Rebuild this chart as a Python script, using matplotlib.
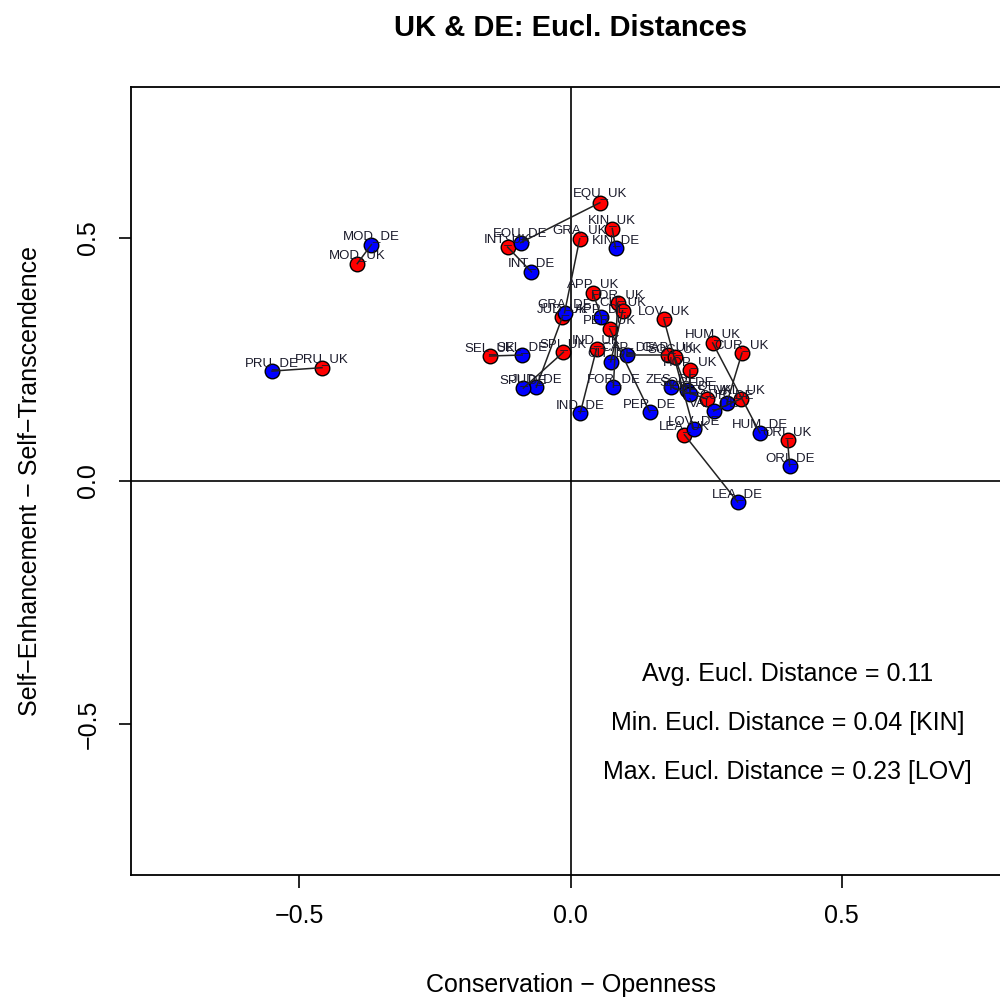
#!/usr/bin/env python3
# Scatter of UK vs DE positions on two value dimensions, with pairs joined
# and the Euclidean distance summary written in the lower right.

import numpy as np
import matplotlib.pyplot as plt

plt.rcParams['font.family'] = ['Liberation Sans', 'DejaVu Sans']

# Strength codes and coordinates (Conservation-Openness, Self-Enh.-Self-Trans.)
codes = ["EQU", "KIN", "GRA", "INT", "MOD", "PRU", "APP", "FOR", "CIT", "PER",
         "JUD", "LOV", "HUM", "CUR", "CAP", "SOC", "HOP", "ZES", "VAL", "LEA",
         "ORI", "SEL", "SPI", "IND"]

uk_x = [0.054, 0.077, 0.017, -0.116, -0.393, -0.458, 0.041, 0.087, 0.096, 0.072,
        -0.015, 0.172, 0.262, 0.316, 0.179, 0.192, 0.220, 0.251, 0.314, 0.210,
        0.400, -0.149, -0.013, 0.048]
uk_y = [0.572, 0.519, 0.498, 0.481, 0.447, 0.233, 0.387, 0.366, 0.350, 0.313,
        0.337, 0.333, 0.284, 0.263, 0.259, 0.255, 0.228, 0.169, 0.169, 0.095,
        0.084, 0.257, 0.265, 0.272]

de_x = [-0.092, 0.083, -0.011, -0.072, -0.367, -0.550, 0.057, 0.079, 0.074, 0.146,
        -0.063, 0.227, 0.349, 0.288, 0.105, 0.214, 0.221, 0.186, 0.264, 0.308,
        0.404, -0.089, -0.087, 0.018]
de_y = [0.490, 0.479, 0.346, 0.430, 0.486, 0.226, 0.337, 0.193, 0.245, 0.142,
        0.193, 0.107, 0.099, 0.160, 0.259, 0.187, 0.179, 0.193, 0.144, -0.043,
        0.031, 0.259, 0.191, 0.140]

uk_x, uk_y = np.array(uk_x), np.array(uk_y)
de_x, de_y = np.array(de_x), np.array(de_y)

# Euclidean distance between the two countries for every strength
dist = np.sqrt((uk_x - de_x) ** 2 + (uk_y - de_y) ** 2)
i_min, i_max = np.argmin(dist), np.argmax(dist)

fig = plt.figure(figsize=(10, 9.99), dpi=100)
ax = fig.add_axes([0.131, 0.1241, 0.879, 0.7888])

ax.axhline(0, color='black', lw=1.2, zorder=1)
ax.axvline(0, color='black', lw=1.2, zorder=1)

ax.scatter(uk_x, uk_y, s=110, c='#ff0000', edgecolors='black', linewidths=1.0, zorder=2)
ax.scatter(de_x, de_y, s=110, c='#0000ff', edgecolors='black', linewidths=1.0, zorder=3)

for i in range(len(codes)):
    ax.plot([uk_x[i], de_x[i]], [uk_y[i], de_y[i]], color='#222222', lw=1.1, zorder=4)

for i, c in enumerate(codes):
    ax.annotate(c + "_UK", (uk_x[i], uk_y[i]), xytext=(0, 6), textcoords='offset points',
                ha='center', va='center', fontsize=9.5, color='#1a1a2a', zorder=5)
    ax.annotate(c + "_DE", (de_x[i], de_y[i]), xytext=(0, 6), textcoords='offset points',
                ha='center', va='center', fontsize=9.5, color='#1a1a2a', zorder=5)

stat_size = 18
ax.text(0.40, -0.396, f"Avg. Eucl. Distance = {dist.mean():.2f}",
        ha='center', va='center', fontsize=stat_size)
ax.text(0.40, -0.497, f"Min. Eucl. Distance = {dist[i_min]:.2f} [{codes[i_min]}]",
        ha='center', va='center', fontsize=stat_size)
ax.text(0.40, -0.598, f"Max. Eucl. Distance = {dist[i_max]:.2f} [{codes[i_max]}]",
        ha='center', va='center', fontsize=stat_size)

ax.set_xlim(-0.81, 0.81)
ax.set_ylim(-0.81, 0.81)
ax.set_xticks([-0.5, 0.0, 0.5])
ax.set_yticks([-0.5, 0.0, 0.5])
ax.set_xticklabels(["\u22120.5", "0.0", "0.5"])
ax.set_yticklabels(["\u22120.5", "0.0", "0.5"], rotation=90, va='center')
ax.tick_params(direction='out', length=9, width=1.2, labelsize=18)
ax.tick_params(axis='x', pad=12)
ax.tick_params(axis='y', pad=13)
for sp in ax.spines.values():
    sp.set_linewidth(1.3)

ax.set_xlabel("Conservation \u2212 Openness", fontsize=18, labelpad=32)
ax.set_ylabel("Self\u2212Enhancement \u2212 Self\u2212Transcendence", fontsize=18, labelpad=25)
ax.set_title("UK & DE: Eucl. Distances", fontsize=21, fontweight='bold', pad=37)

fig.savefig("out.png", dpi=100)
